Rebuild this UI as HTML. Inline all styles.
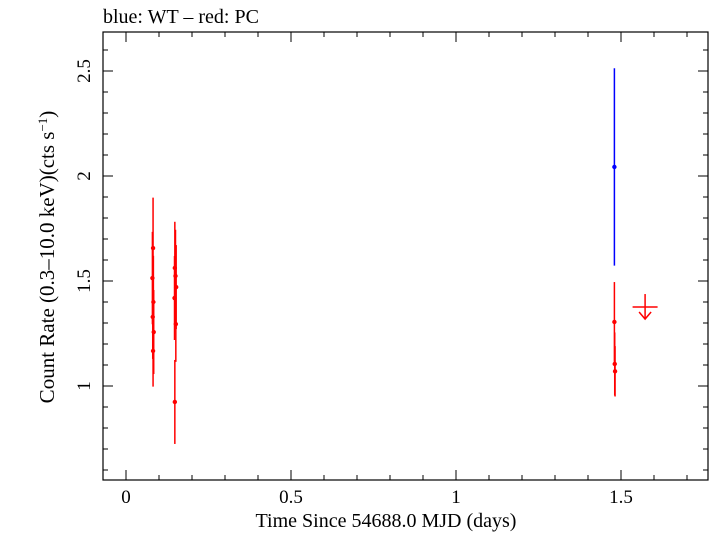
<!DOCTYPE html>
<html><head><meta charset="utf-8"><style>
body{margin:0;background:#fff;}
svg text{font-family:"Liberation Serif",serif;fill:#000;}
</style></head><body>
<svg id="c" width="709" height="532" xmlns="http://www.w3.org/2000/svg"></svg>
<script>
const pcTimes=[0.082,0.080,0.083,0.081,0.084,0.082,0.148,0.150,0.152,0.147,0.151,0.148,1.48,1.481,1.482];
const pcRates=[1.657,1.514,1.40,1.329,1.257,1.167,1.562,1.524,1.471,1.419,1.295,0.924,1.305,1.105,1.07];
const pcErrs=[0.24,0.22,0.22,0.2,0.2,0.17,0.22,0.22,0.2,0.2,0.18,0.2,0.19,0.15,0.12];
const wtTimes=[1.48];
const wtRates=[2.043];
const wtErrs=[0.47];
const ulTimes=[1.573];
const ulRates=[1.376];
const xTicks=[0,0.5,1,1.5];
const yTicks=[1,1.5,2,2.5];
const NS="http://www.w3.org/2000/svg";
const svg=document.getElementById('c');
const L=103,R=708,T=32,B=480;
const X=v=>126+v*330;
const Y=v=>386-(v-1)*210;
function mk(tag,attrs,parent){const e=document.createElementNS(NS,tag);for(const k in attrs)e.setAttribute(k,attrs[k]);(parent||svg).appendChild(e);return e;}
const frame=mk('rect',{x:L,y:T,width:R-L,height:B-T,fill:'none',stroke:'#000','stroke-width':1.2});


const ax=mk('g',{stroke:'#000','stroke-width':1});


for(let i=-3;i<=18;i++){const v=i/10;const x=X(v);if(x<=L||x>=R)continue;const big=i%5==0;const h=big?10:5;
 mk('line',{x1:x,y1:B,x2:x,y2:B-h},ax);mk('line',{x1:x,y1:T,x2:x,y2:T+h},ax);}
for(let i=5;i<=27;i++){const v=i/10;const y=Y(v);if(y<=T||y>=B)continue;const big=i%5==0;const h=big?10:5;
 mk('line',{x1:L,y1:y,x2:L+h,y2:y},ax);mk('line',{x1:R,y1:y,x2:R-h,y2:y},ax);}
xTicks.forEach(v=>{const t=mk('text',{x:X(v),y:503,'text-anchor':'middle','font-size':19});t.textContent=String(v);
 
 });
yTicks.forEach(v=>{const t=mk('text',{x:0,y:0,'text-anchor':'middle','font-size':19,transform:`translate(90,${Y(v)}) rotate(-90)`});t.textContent=String(v);
 
 });
function series(ts,rs,es,color,name){const g=mk('g',{stroke:color,fill:color});
 
 
 ts.forEach((t,i)=>{const x=X(t);mk('line',{x1:x,y1:Y(rs[i]+es[i]),x2:x,y2:Y(rs[i]-es[i]),'stroke-width':1.5},g);
  const c=mk('circle',{cx:x,cy:Y(rs[i]),r:2.2,stroke:'none'},g);
  
  });}
series(pcTimes,pcRates,pcErrs,'#f00','pc-series');
series(wtTimes,wtRates,wtErrs,'#00f','wt-series');
ulTimes.forEach((t,i)=>{const x=X(t),y=Y(ulRates[i]);const g=mk('g',{stroke:'#f00','stroke-width':1.5,fill:'none'});
 
 
 mk('line',{x1:x-12.5,y1:y,x2:x+12.5,y2:y},g);mk('line',{x1:x,y1:y-13,x2:x,y2:y+12},g);
 mk('polyline',{points:`${x-6},${y+5} ${x},${y+12} ${x+6},${y+5}`},g);});
const title=mk('text',{x:103,y:23,'font-size':20});title.textContent='blue: WT \u2013 red: PC';


const xl=mk('text',{x:386,y:527,'text-anchor':'middle','font-size':20});xl.textContent='Time Since 54688.0 MJD (days)';


const yl=mk('text',{x:0,y:0,'text-anchor':'middle','font-size':21,transform:'translate(54,257) rotate(-90)'});
yl.innerHTML='Count Rate (0.3\u201310.0 keV)(cts s<tspan dy="-7" font-size="13">\u22121</tspan><tspan dy="7">)</tspan>';


</script>
</body></html>
